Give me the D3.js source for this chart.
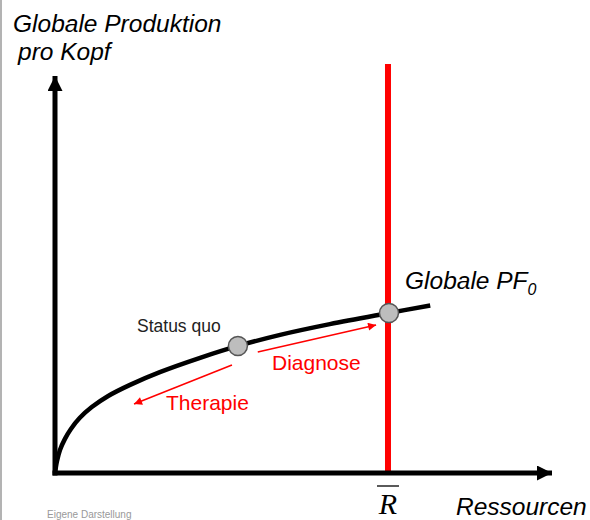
<!DOCTYPE html>
<html>
<head>
<meta charset="utf-8">
<title>Globale Produktion pro Kopf</title>
<script src="https://d3js.org/d3.v7.min.js"></script>
<style>
  body { margin: 0; background: #fff; }
  svg { display: block; }
</style>
</head>
<body>
<div id="chart"></div>
<script>
// curve of the global production function (resources, production per head)
var resources  = [0, 0.4, 1.0, 2.0, 3.2, 5.0, 7.4, 10.7, 15.1, 21.1, 29.2, 36.8, 45.3, 55.3, 67.2, 75.5];
var production = [0, 3.0, 5.8, 8.6, 11.1, 13.9, 16.6, 19.4, 22.2, 25.4, 29.0, 32.0, 34.8, 37.5, 40.3, 42.2];

// marked points on the curve
var pointNames = ["Status quo", "Globale PF0"];
var pointX     = [36.8, 67.2];
var pointY     = [32.0, 40.3];

// resource limit R-bar
var rBar = 67.0;

// red arrows: from -> to
var arrowNames = ["Diagnose", "Therapie"];
var arrowX0 = [40.8, 35.6];
var arrowY0 = [30.5, 27.2];
var arrowX1 = [64.6, 15.9];
var arrowY1 = [37.3, 17.4];

var width = 590, height = 520;

var svg = d3.select("#chart").append("svg")
  .attr("width", width)
  .attr("height", height);

var x = d3.scaleLinear().domain([0, 100]).range([55, 552]);
var y = d3.scaleLinear().domain([0, 100]).range([473, 76]);

var defs = svg.append("defs");
defs.append("marker")
  .attr("id", "bigArrow")
  .attr("viewBox", "0 0 10 10")
  .attr("refX", 10).attr("refY", 5)
  .attr("markerWidth", 3.4).attr("markerHeight", 3.0)
  .attr("markerUnits", "strokeWidth")
  .attr("orient", "auto")
  .append("path").attr("d", "M0,0 L10,5 L0,10 z").attr("fill", "#000");
defs.append("marker")
  .attr("id", "redArrow")
  .attr("viewBox", "0 0 10 10")
  .attr("refX", 10).attr("refY", 5)
  .attr("markerWidth", 11).attr("markerHeight", 8)
  .attr("markerUnits", "userSpaceOnUse")
  .attr("orient", "auto")
  .append("path").attr("d", "M0,0 L10,5 L0,10 z").attr("fill", "#ff0000");

// left frame edge
svg.append("line")
  .attr("x1", 1).attr("x2", 1).attr("y1", 0).attr("y2", height)
  .attr("stroke", "#9a9a9a").attr("stroke-width", 1.5);

// red limit line
svg.append("line")
  .attr("x1", x(rBar)).attr("x2", x(rBar))
  .attr("y1", y(103)).attr("y2", y(0))
  .attr("stroke", "#ff0000").attr("stroke-width", 6);

// axes
svg.append("line")
  .attr("x1", x(0)).attr("x2", x(0))
  .attr("y1", y(0) + 2.5).attr("y2", y(100))
  .attr("stroke", "#000").attr("stroke-width", 5)
  .attr("marker-end", "url(#bigArrow)");
svg.append("line")
  .attr("x1", x(0) - 2.5).attr("x2", x(100))
  .attr("y1", y(0)).attr("y2", y(0))
  .attr("stroke", "#000").attr("stroke-width", 5)
  .attr("marker-end", "url(#bigArrow)");

// production function
var curve = resources.map(function(r, i) { return [r, production[i]]; });
var line = d3.line()
  .x(function(d) { return x(d[0]); })
  .y(function(d) { return y(d[1]); })
  .curve(d3.curveCatmullRom.alpha(0.5));
svg.append("path")
  .datum(curve)
  .attr("d", line)
  .attr("fill", "none")
  .attr("stroke", "#000")
  .attr("stroke-width", 4.5)
  .attr("stroke-linecap", "butt");

// red arrows
svg.selectAll(".redarrow")
  .data(arrowNames)
  .enter().append("line")
  .attr("class", "redarrow")
  .attr("x1", function(d, i) { return x(arrowX0[i]); })
  .attr("y1", function(d, i) { return y(arrowY0[i]); })
  .attr("x2", function(d, i) { return x(arrowX1[i]); })
  .attr("y2", function(d, i) { return y(arrowY1[i]); })
  .attr("stroke", "#ff0000")
  .attr("stroke-width", 1.6)
  .attr("marker-end", "url(#redArrow)");

// points
svg.selectAll(".pt")
  .data(pointNames)
  .enter().append("circle")
  .attr("class", "pt")
  .attr("cx", function(d, i) { return x(pointX[i]); })
  .attr("cy", function(d, i) { return y(pointY[i]); })
  .attr("r", 9.5)
  .attr("fill", "#bdbdbd")
  .attr("stroke", "#555")
  .attr("stroke-width", 1.5);

// labels
var sans = "'Liberation Sans', Arial, sans-serif";

svg.append("text")
  .attr("x", 13).attr("y", 32)
  .attr("font-family", sans).attr("font-style", "italic")
  .attr("font-size", 24.5).attr("fill", "#000")
  .text("Globale Produktion");
svg.append("text")
  .attr("x", 18).attr("y", 60)
  .attr("font-family", sans).attr("font-style", "italic")
  .attr("font-size", 24.5).attr("fill", "#000")
  .text("pro Kopf");

var pf = svg.append("text")
  .attr("x", 405).attr("y", 289)
  .attr("font-family", sans).attr("font-style", "italic")
  .attr("font-size", 24.5).attr("fill", "#000");
pf.append("tspan").text("Globale PF");
pf.append("tspan").attr("dy", 6).attr("font-size", 16).text("0");

svg.append("text")
  .attr("x", 137).attr("y", 332)
  .attr("font-family", sans)
  .attr("font-size", 17.5).attr("fill", "#222")
  .text("Status quo");

svg.append("text")
  .attr("x", 272).attr("y", 370)
  .attr("font-family", sans)
  .attr("font-size", 21).attr("fill", "#ff0000")
  .text("Diagnose");
svg.append("text")
  .attr("x", 166).attr("y", 410)
  .attr("font-family", sans)
  .attr("font-size", 21).attr("fill", "#ff0000")
  .text("Therapie");

svg.append("text")
  .attr("x", 456).attr("y", 515)
  .attr("font-family", sans).attr("font-style", "italic")
  .attr("font-size", 24.5).attr("fill", "#000")
  .text("Ressourcen");

// R-bar label
svg.append("text")
  .attr("x", x(rBar)).attr("y", 514)
  .attr("text-anchor", "middle")
  .attr("font-family", "'Liberation Serif', 'Times New Roman', serif")
  .attr("font-style", "italic")
  .attr("font-size", 30).attr("fill", "#000")
  .text("R");
svg.append("line")
  .attr("x1", x(rBar) - 11).attr("x2", x(rBar) + 11)
  .attr("y1", 486).attr("y2", 486)
  .attr("stroke", "#000").attr("stroke-width", 1.3);

svg.append("text")
  .attr("x", 47).attr("y", 518)
  .attr("font-family", sans)
  .attr("font-size", 10).attr("fill", "#999")
  .text("Eigene Darstellung");
</script>
</body>
</html>
